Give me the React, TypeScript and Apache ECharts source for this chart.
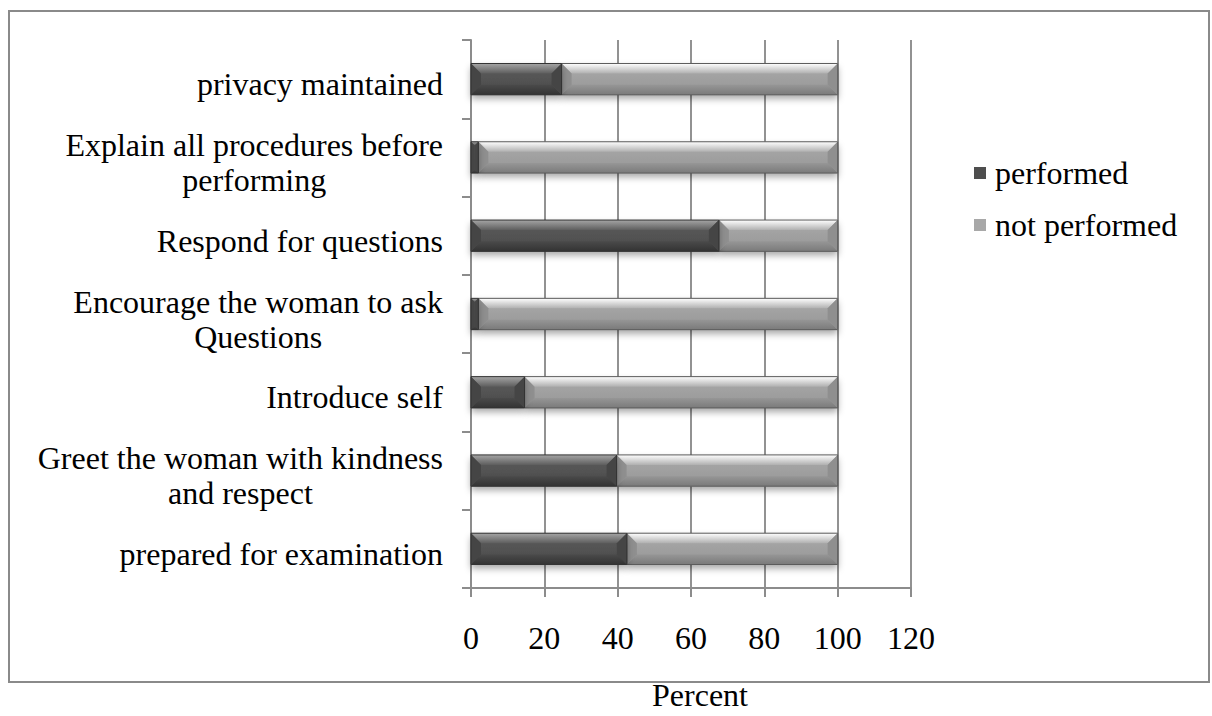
import { useEffect, useRef } from "react";
import * as echarts from "echarts";

// Checklist items, bottom to top on the category axis
const categories = [
  "prepared for examination",
  "Greet the woman with kindness\nand respect",
  "Introduce self",
  "Encourage the woman to ask\nQuestions",
  "Respond for questions",
  "Explain all procedures before\nperforming",
  "privacy maintained",
];
const seriesNames = ["performed", "not performed"];
const performed = [42.5, 39.7, 14.6, 2, 67.6, 2, 24.7];
const notPerformed = [57.5, 60.3, 85.4, 98, 32.4, 98, 75.3];
const xMin = 0;
const xMax = 120;
const xStep = 20;

const FONT = "'Liberation Serif', 'Times New Roman', serif";
const FS = 32;

type Palette = {
  face0: string;
  face1: string;
  hi: string;
  top: string;
  bottom: string;
  side: string;
  border: string;
};

const darkPal: Palette = {
  face0: "#5c5c5c",
  face1: "#4a4a4a",
  hi: "#a5a5a5",
  top: "#5e5e5e",
  bottom: "#333333",
  side: "#454545",
  border: "#333333",
};
const lightPal: Palette = {
  face0: "#aaaaaa",
  face1: "#969696",
  hi: "#ffffff",
  top: "#b0b0b0",
  bottom: "#7a7a7a",
  side: "#8f8f8f",
  border: "#5c5c5c",
};

// Bevelled horizontal bar segment spanning [start, end] on the value axis
const bevelBar = (pal: Palette) => (_params: any, api: any) => {
  const cat = api.value(0);
  const start = api.value(1);
  const end = api.value(2);
  const a = api.coord([start, cat]);
  const b = api.coord([end, cat]);
  const band = api.size([0, 1])[1];
  const h = band * 0.4;
  const x0 = a[0];
  const x1 = b[0];
  const y0 = a[1] - h / 2;
  const y1 = a[1] + h / 2;
  const w = x1 - x0;
  const bv = Math.min(10, w / 2, h / 3);
  const grad = (c0: string, c1: string) =>
    new echarts.graphic.LinearGradient(0, 0, 0, 1, [
      { offset: 0, color: c0 },
      { offset: 1, color: c1 },
    ]);
  return {
    type: "group",
    children: [
      {
        type: "rect",
        shape: { x: x0, y: y0, width: w, height: h },
        style: {
          fill: grad(pal.face0, pal.face1),
          shadowBlur: 7,
          shadowOffsetY: 4,
          shadowColor: "rgba(0,0,0,0.35)",
        },
      },
      {
        type: "polygon",
        shape: { points: [[x0, y0], [x1, y0], [x1 - bv, y0 + bv], [x0 + bv, y0 + bv]] },
        style: { fill: grad(pal.hi, pal.top) },
      },
      {
        type: "polygon",
        shape: { points: [[x0, y1], [x1, y1], [x1 - bv, y1 - bv], [x0 + bv, y1 - bv]] },
        style: { fill: grad(pal.face1, pal.bottom) },
      },
      {
        type: "polygon",
        shape: { points: [[x0, y0], [x0 + bv, y0 + bv], [x0 + bv, y1 - bv], [x0, y1]] },
        style: { fill: pal.side },
      },
      {
        type: "polygon",
        shape: { points: [[x1, y0], [x1 - bv, y0 + bv], [x1 - bv, y1 - bv], [x1, y1]] },
        style: { fill: pal.side },
      },
      {
        type: "rect",
        shape: { x: x0, y: y0, width: w, height: h },
        style: { fill: "none", stroke: pal.border, lineWidth: 1 },
      },
    ],
  };
};

export default function App() {
  const ref = useRef<HTMLDivElement>(null);

  useEffect(() => {
    if (!ref.current) return;
    const chart = echarts.init(ref.current, undefined, { renderer: "svg" });

    const performedData = performed.map((v, i) => [i, 0, v]);
    const notPerformedData = notPerformed.map((v, i) => [i, performed[i], performed[i] + v]);

    chart.setOption({
      animation: false,
      backgroundColor: "#ffffff",
      textStyle: { fontFamily: FONT },
      graphic: [
        {
          type: "rect",
          shape: { x: 9, y: 11, width: 1200, height: 671 },
          style: { fill: "none", stroke: "#8a8a8a", lineWidth: 2 },
          silent: true,
        },
      ],
      grid: {
        left: 471,
        right: 301,
        top: 40,
        bottom: 128,
        containLabel: false,
        outerBoundsMode: "none",
      },
      legend: {
        orient: "vertical",
        left: 969,
        top: 151,
        itemWidth: 12,
        itemHeight: 12,
        itemGap: 18,
        icon: "rect",
        data: seriesNames,
        textStyle: {
          fontFamily: FONT,
          fontSize: FS,
          color: "#000",
          lineHeight: 34,
          padding: [0, 0, 0, 4],
        },
      },
      xAxis: {
        type: "value",
        min: xMin,
        max: xMax,
        interval: xStep,
        name: "Percent",
        nameLocation: "middle",
        nameGap: 95,
        nameTextStyle: {
          fontFamily: FONT,
          fontSize: FS,
          color: "#000",
          lineHeight: 24,
          padding: [0, 0, 0, 18],
        },
        axisLine: { show: true, lineStyle: { color: "#8c8c8c", width: 2 } },
        axisTick: { show: true, length: 9, lineStyle: { color: "#8c8c8c", width: 2 } },
        axisLabel: { fontFamily: FONT, fontSize: FS, color: "#000", margin: 34 },
        splitLine: { show: true, lineStyle: { color: "#929292", width: 2 } },
      },
      yAxis: {
        type: "category",
        data: categories,
        axisLine: { show: true, lineStyle: { color: "#8c8c8c", width: 2 } },
        axisTick: { show: true, length: 9, lineStyle: { color: "#8c8c8c", width: 2 } },
        axisLabel: {
          margin: 28,
          padding: [10, 0, 0, 0],
          formatter: (v: string) =>
            v
              .split("\n")
              .map((line) => `{c|${line}}`)
              .join("\n"),
          rich: {
            c: {
              fontFamily: FONT,
              fontSize: FS,
              color: "#000",
              align: "center",
              lineHeight: 35,
            },
          },
        },
        splitLine: { show: false },
      },
      series: [
        {
          name: seriesNames[0],
          type: "custom",
          renderItem: bevelBar(darkPal),
          encode: { x: [1, 2], y: 0 },
          itemStyle: { color: "#4e4e4e" },
          data: performedData,
          z: 3,
        },
        {
          name: seriesNames[1],
          type: "custom",
          renderItem: bevelBar(lightPal),
          encode: { x: [1, 2], y: 0 },
          itemStyle: { color: "#a8a8a8" },
          data: notPerformedData,
          z: 2,
        },
      ],
    });

    return () => chart.dispose();
  }, []);

  return (
    <div
      ref={ref}
      style={{ position: "fixed", left: 0, top: 0, width: 1212, height: 716, background: "#fff" }}
    />
  );
}
